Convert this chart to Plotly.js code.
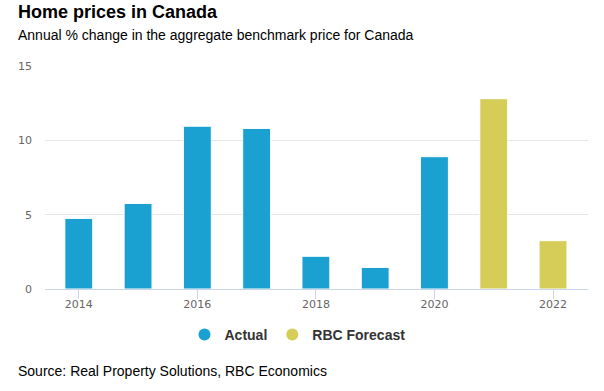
<!DOCTYPE html>
<html>
<head>
<meta charset="utf-8">
<script src="https://cdn.plot.ly/plotly-3.0.1.min.js"></script>
<style>html,body{margin:0;padding:0;background:#fff;}#chart{width:604px;height:391px;}</style>
</head>
<body>
<div id="chart"></div>
<script>
const actualYears = [2014, 2015, 2016, 2017, 2018, 2019, 2020];
const actualValues = [4.75, 5.75, 10.95, 10.8, 2.2, 1.45, 8.9];
const forecastYears = [2021, 2022];
const forecastValues = [12.8, 3.25];
const tickYears = [2014, 2016, 2018, 2020, 2022];
const yTicks = [0, 5, 10, 15];

const blue = '#1aa0d1';
const yellow = '#d6cc58';

const traces = [
  {type: 'bar', x: actualYears, y: actualValues, width: 0.47, name: 'Actual',
   marker: {color: blue, line: {color: '#fff', width: 1}}, showlegend: false, hoverinfo: 'x+y'},
  {type: 'bar', x: forecastYears, y: forecastValues, width: 0.47, name: 'RBC Forecast',
   marker: {color: yellow, line: {color: '#fff', width: 1}}, showlegend: false, hoverinfo: 'x+y'},
  {type: 'scatter', mode: 'markers', x: [null], y: [null], name: 'Actual',
   marker: {color: blue, size: 15, symbol: 'circle'}},
  {type: 'scatter', mode: 'markers', x: [null], y: [null], name: 'RBC Forecast',
   marker: {color: yellow, size: 15, symbol: 'circle'}}
];

const tickFont = {family: 'DejaVu Sans, sans-serif', size: 11, color: '#666'};
const txtFont = 'Liberation Sans, Arial, sans-serif';

const layout = {
  width: 604, height: 391,
  margin: {l: 45, r: 16, t: 66, b: 102},
  paper_bgcolor: '#fff', plot_bgcolor: '#fff',
  barmode: 'overlay',
  font: {family: txtFont, color: '#333'},
  xaxis: {
    range: [2013.43, 2022.59], tickvals: tickYears, ticktext: tickYears.map(String),
    showgrid: false, zeroline: false, showline: true, linecolor: '#ccd6eb', linewidth: 1,
    ticks: 'outside', ticklen: 9, tickcolor: '#ccd6eb', tickwidth: 1,
    ticklabelstandoff: -4,
    tickfont: tickFont, fixedrange: true
  },
  yaxis: {
    range: [0, 15], tickvals: yTicks, ticktext: yTicks.map(String),
    showgrid: true, gridcolor: '#e6e6e6', gridwidth: 1, zeroline: false, showline: false,
    ticks: '', ticklabelstandoff: 12,
    tickfont: tickFont, fixedrange: true
  },
  showlegend: true,
  legend: {
    orientation: 'h', x: 0.465, xanchor: 'center', y: -0.206, yanchor: 'middle',
    font: {family: txtFont, size: 14, color: '#333', weight: 'bold'},
    itemsizing: 'constant', traceorder: 'normal', itemwidth: 30
  },
  annotations: [
    {text: '<b>Home prices in Canada</b>', xref: 'paper', yref: 'paper', x: -0.0534, y: 1.242,
     xanchor: 'left', yanchor: 'middle', showarrow: false,
     font: {family: txtFont, size: 18, color: '#000'}},
    {text: 'Annual % change in the aggregate benchmark price for Canada', xref: 'paper', yref: 'paper',
     x: -0.0534, y: 1.139, xanchor: 'left', yanchor: 'middle', showarrow: false,
     font: {family: txtFont, size: 14, color: '#000'}},
    {text: 'Source: Real Property Solutions, RBC Economics', xref: 'paper', yref: 'paper',
     x: -0.0534, y: -0.368, xanchor: 'left', yanchor: 'middle', showarrow: false,
     font: {family: txtFont, size: 14, color: '#000'}}
  ]
};

Plotly.newPlot('chart', traces, layout, {displayModeBar: false, staticPlot: true});
</script>
</body>
</html>
